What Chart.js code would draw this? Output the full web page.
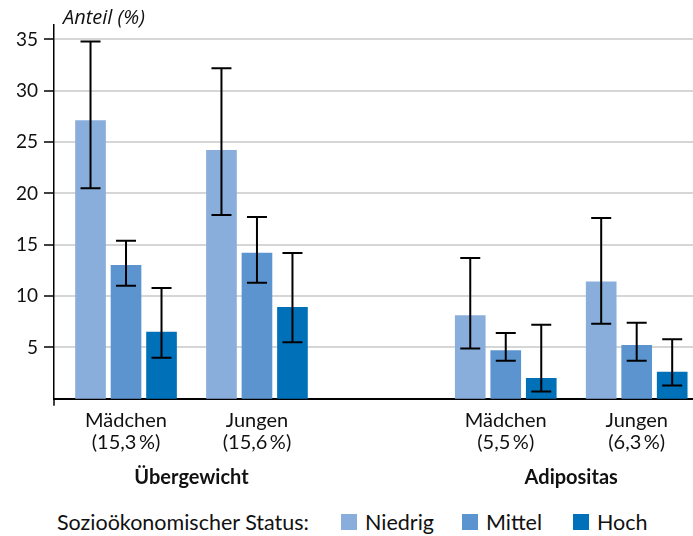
<!DOCTYPE html>
<html>
<head>
<meta charset="utf-8">
<script src="https://cdn.jsdelivr.net/npm/chart.js@4.4.0/dist/chart.umd.min.js"></script>
<style>
  body { margin: 0; background: #fff; font-family: 'Lato', sans-serif; color: #111; }
  #wrap { position: relative; width: 693px; height: 536px; }
  #legend { position: absolute; left: 57px; top: 508px; font-size: 21.5px; line-height: 28px; display: flex; align-items: center; white-space: nowrap; }
  #legend .title { width: 284px; }
  #legend .box { display: inline-block; width: 16px; height: 16px; margin-right: 8px; }
  #legend .item { display: flex; align-items: center; }
</style>
</head>
<body>
<div id="wrap">
  <canvas id="canvas" width="693" height="505"></canvas>
  <div id="legend"></div>
</div>
<script>
// Kategorien und Gruppen
const categories = [['Mädchen', '(15,3\u2009%)'], ['Jungen', '(15,6\u2009%)'], ['Mädchen', '(5,5\u2009%)'], ['Jungen', '(6,3\u2009%)']]
const groups = ['Übergewicht', 'Adipositas']
const statusLabels = ['Niedrig', 'Mittel', 'Hoch']

// Anteile in % mit Konfidenzintervallen
const niedrig = [27.1, 24.2, 8.1, 11.4]
const niedrigCI = [[20.5, 34.8], [17.9, 32.2], [4.9, 13.7], [7.3, 17.6]]
const mittel = [13.0, 14.2, 4.7, 5.2]
const mittelCI = [[11.0, 15.4], [11.3, 17.7], [3.7, 6.4], [3.7, 7.4]]
const hoch = [6.5, 8.9, 2.0, 2.6]
const hochCI = [[4.0, 10.8], [5.5, 14.2], [0.7, 7.2], [1.3, 5.8]]

const yTicks = [5, 10, 15, 20, 25, 30, 35]

// Lage der Gruppen auf der x-Achse (Lücke zwischen Übergewicht und Adipositas)
const xPos = [1, 2, 3.9, 4.9]

const colors = ['#8aaedb', '#5c94d0', '#0070b9']
const values = [niedrig, mittel, hoch]
const cis = [niedrigCI, mittelCI, hochCI]

const datasets = statusLabels.map((label, d) => ({
  label: label,
  data: values[d].map((v, i) => ({ x: xPos[i], y: v })),
  ci: cis[d],
  backgroundColor: colors[d],
  barThickness: 35.5,
  maxBarThickness: 30,
}))

const errorBars = {
  id: 'errorBars',
  afterDatasetsDraw(chart) {
    const ctx = chart.ctx
    const y = chart.scales.y
    ctx.save()
    ctx.strokeStyle = '#000'
    ctx.lineWidth = 2
    chart.data.datasets.forEach((ds, d) => {
      chart.getDatasetMeta(d).data.forEach((bar, i) => {
        const lo = y.getPixelForValue(ds.ci[i][0])
        const hi = y.getPixelForValue(ds.ci[i][1])
        ctx.beginPath()
        ctx.moveTo(bar.x, lo); ctx.lineTo(bar.x, hi)
        ctx.moveTo(bar.x - 10, lo); ctx.lineTo(bar.x + 10, lo)
        ctx.moveTo(bar.x - 10, hi); ctx.lineTo(bar.x + 10, hi)
        ctx.stroke()
      })
    })
    ctx.restore()
  }
}

const extraText = {
  id: 'extraText',
  afterDraw(chart) {
    const ctx = chart.ctx
    const x = chart.scales.x
    const area = chart.chartArea
    ctx.save()
    // y-Achse ragt etwas unter die x-Achse
    ctx.strokeStyle = '#000'
    ctx.lineWidth = 1.5
    ctx.beginPath()
    ctx.moveTo(area.left, area.bottom)
    ctx.lineTo(area.left, area.bottom + 7)
    ctx.stroke()

    ctx.fillStyle = '#111'
    ctx.textBaseline = 'middle'
    ctx.font = 'italic 20px "Open Sans"'
    ctx.textAlign = 'left'
    ctx.fillText('Anteil (%)', area.left + 9, 18)
    ctx.font = 'bold 20px Lato'
    ctx.textAlign = 'center'
    groups.forEach((g, k) => {
      const cx = (x.getPixelForValue(xPos[2 * k]) + x.getPixelForValue(xPos[2 * k + 1])) / 2
      ctx.fillText(g, cx, 478)
    })
    ctx.restore()
  }
}

const config = {
  type: 'bar',
  data: { datasets: datasets },
  options: {
    responsive: false,
    animation: false,
    layout: { padding: { top: 25, right: 0, bottom: 49, left: 0 } },
    plugins: { legend: { display: false }, tooltip: { enabled: false } },
    scales: {
      x: {
        type: 'linear',
        offset: false,
        min: 0.45,
        max: 5.33,
        grid: { display: false },
        border: { color: '#000', width: 2 },
        afterBuildTicks: (s) => { s.ticks = xPos.map(v => ({ value: v })) },
        ticks: {
          callback: (v, i) => categories[i],
          font: { family: 'Lato', size: 20, lineHeight: 1.13 },
          color: '#111',
          padding: 2,
          autoSkip: false,
          maxRotation: 0,
        },
      },
      y: {
        min: 0,
        max: 36.4,
        afterBuildTicks: (s) => { s.ticks = yTicks.map(v => ({ value: v })) },
        afterFit: (s) => { s.width = 54 },
        grid: { color: '#d6d6d6', lineWidth: 2, tickColor: '#000', tickLength: 10, tickWidth: 1.5 },
        border: { color: '#000', width: 1.5 },
        ticks: { font: { family: 'Lato', size: 19 }, color: '#111', padding: 6 },
      },
    },
  },
  plugins: [errorBars, extraText],
}

const chart = new Chart(document.getElementById('canvas'), config)

// Legende
const itemWidths = ['121px', '111px', 'auto']
const legend = document.getElementById('legend')
let html = '<span class="title">Sozioökonomischer Status:</span>'
statusLabels.forEach((l, d) => {
  html += '<span class="item" style="width:' + itemWidths[d] + '"><span class="box" style="background:' + colors[d] + '"></span>' + l + '</span>'
})
legend.innerHTML = html
</script>
</body>
</html>
